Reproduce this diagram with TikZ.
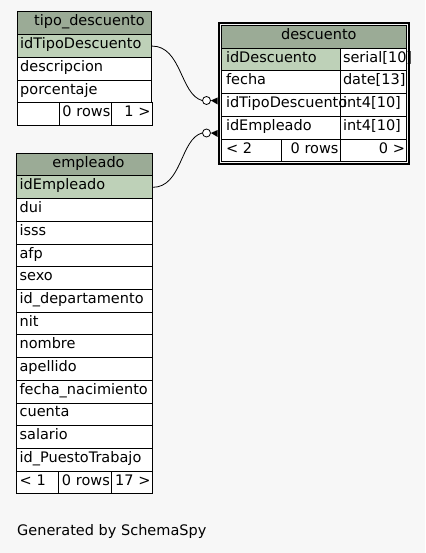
\documentclass[tikz,border=0pt]{standalone}
\usepackage{fontspec}
\setmainfont{DejaVu Sans}
\usetikzlibrary{positioning,fit}
\definecolor{bg}{HTML}{F7F7F7}
\definecolor{hdr}{HTML}{9BAB96}
\definecolor{pk}{HTML}{BED1B8}

\begin{document}
\begin{tikzpicture}[x=1pt, y=-1pt, node distance=0pt,
  font=\fontsize{14.5}{17}\selectfont,
  cell/.style = {draw, line width=1pt, fill=white, outer sep=0pt, inner xsep=3pt, inner ysep=0pt,
                 minimum height=22.7pt, text height=9.5pt, text depth=4.25pt},
  head/.style = {cell, fill=hdr, align=center, text width=#1},
  row/.style = {cell, align=left, text width=#1},
  key/.style = {row=#1, fill=pk},
  foot/.style = {cell, inner xsep=1.5pt, align=right, text width=#1},
  footl/.style = {cell, align=left, text width=#1},
  ring/.style = {draw, circle, fill=white, line width=0.8pt, minimum size=8pt, inner sep=0pt}]
\useasboundingbox[fill=bg] (0,0) rectangle (425,553);

% tipo_descuento
\node[head=128.6pt] (t0) at (84.5,23.35) {\hspace*{10pt}tipo\_descuento};
\node[key=128.6pt] (t1) [below=of t0] {idTipoDescuento};
\node[row=128.6pt] (t2) [below=of t1] {descripcion};
\node[row=128.6pt] (t3) [below=of t2] {porcentaje};
\node[footl=36.3pt, anchor=north west] (tf1) at (t3.south west) {};
\node[foot=49.4pt] (tf2) [right=of tf1] {0 rows};
\node[foot=37.1pt] (tf3) [right=of tf2] {1 >};

% empleado
\node[head=129.8pt] (e0) at (84.5,164.65) {\hspace*{8pt}empleado};
\node[key=129.8pt] (e1) [below=of e0] {idEmpleado};
\node[row=129.8pt] (e2) [below=of e1] {dui};
\node[row=129.8pt] (e3) [below=of e2] {isss};
\node[row=129.8pt] (e4) [below=of e3] {afp};
\node[row=129.8pt] (e5) [below=of e4] {sexo};
\node[row=129.8pt] (e6) [below=of e5] {id\_departamento};
\node[row=129.8pt] (e7) [below=of e6] {nit};
\node[row=129.8pt] (e8) [below=of e7] {nombre};
\node[row=129.8pt] (e9) [below=of e8] {apellido};
\node[row=129.8pt] (e10) [below=of e9] {fecha\_nacimiento};
\node[row=129.8pt] (e11) [below=of e10] {cuenta};
\node[row=129.8pt] (e12) [below=of e11] {salario};
\node[row=129.8pt] (e13) [below=of e12] {id\_PuestoTrabajo};
\node[footl=36.3pt, anchor=north west] (ef1) at (e13.south west) {< 1};
\node[foot=49.4pt] (ef2) [right=of ef1] {0 rows};
\node[foot=37.7pt] (ef3) [right=of ef2] {17 >};

% descuento
\node[head=179.6pt] (d0) at (313.8,36.95) {\hspace*{10pt}descuento};
\node[row=60.6pt, anchor=north east] (d1t) at (d0.south east) {serial[10]};
\node[row=60.6pt] (d2t) [below=of d1t] {date[13]};
\node[row=60.6pt] (d3t) [below=of d2t] {int4[10]};
\node[row=60.6pt] (d4t) [below=of d3t] {int4[10]};
\node[key=113pt] (d1) [left=of d1t] {\hspace*{2pt}idDescuento};
\node[row=113pt] (d2) [left=of d2t] {\hspace*{2pt}fecha};
\node[row=113pt] (d3) [left=of d3t] {\hspace*{2pt}\mbox{idTipoDescuento}};
\node[row=113pt] (d4) [left=of d4t] {\hspace*{2pt}idEmpleado};
\node[footl=54.7pt, anchor=north west] (df1) at (d4.south west) {\hspace*{2pt}< 2};
\node[foot=55.3pt] (df2) [right=of df1] {0 rows};
\node[foot=63.6pt] (df3) [right=of df2] {0 >};
\node[draw, line width=2pt, inner sep=2.4pt, fit=(d0) (df1) (df3)] (dbox) {};

% relaciones
\node[ring] (o1) at (206.5,100.5) {};
\node[ring] (o2) at (206.5,133) {};
\draw[line width=0.8pt] (t1.east) .. controls +(30,0) and +(-22,-6) .. (o1.west);
\draw[line width=0.8pt] (e1.east) .. controls +(30,0) and +(-22,6) .. (o2.west);
\fill (o1.east) -- ([yshift=-4pt]o1.east -| dbox.west) -- ([yshift=3pt]o1.east -| dbox.west) -- cycle;
\fill (o2.east) -- ([yshift=-4pt]o2.east -| dbox.west) -- ([yshift=3pt]o2.east -| dbox.west) -- cycle;

\node[anchor=base west, inner sep=0pt] (gen) at (17,535) {Generated by SchemaSpy};
\end{tikzpicture}
\end{document}
